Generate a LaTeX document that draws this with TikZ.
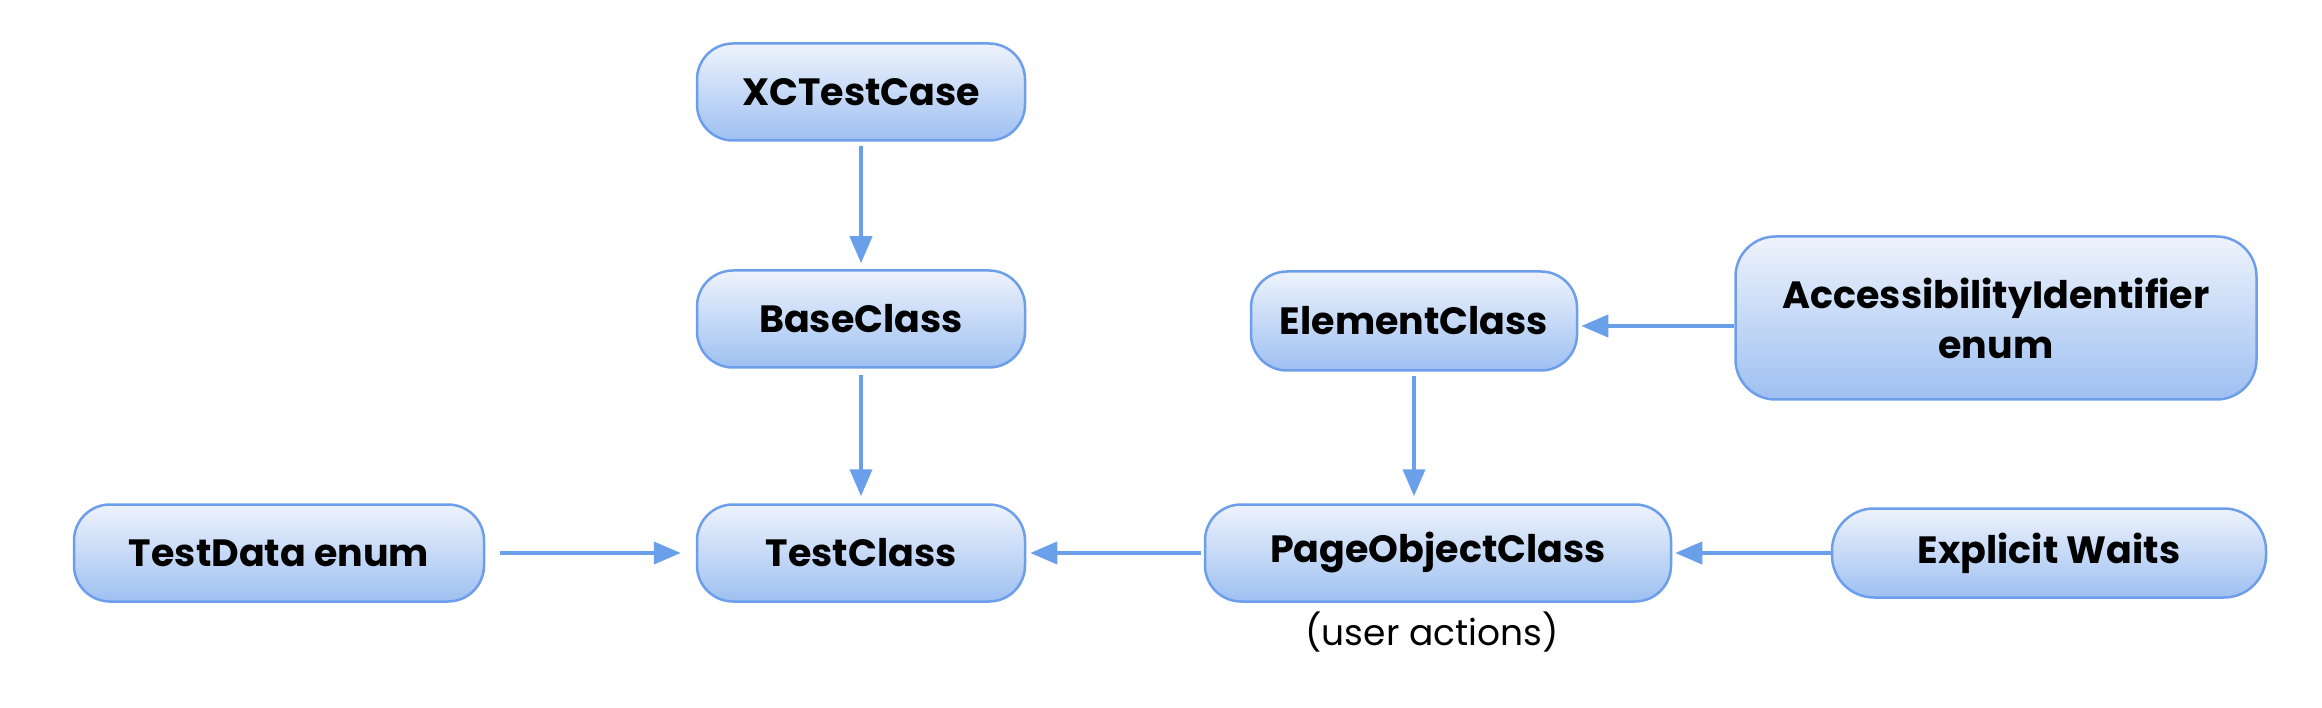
\documentclass[tikz,border=0pt]{standalone}
\usepackage{fontspec}
\setmainfont{Poppins}
\usetikzlibrary{arrows.meta}
\definecolor{bord}{HTML}{6D9EEB}
\definecolor{ftop}{HTML}{EEF3FC}
\definecolor{fbot}{HTML}{9EC0F1}
\definecolor{arr}{HTML}{6A9FEA}
\tikzset{
  box/.style={draw=bord, line width=2.5pt, rounded corners=36pt, top color=ftop, bottom color=fbot,
    inner sep=0pt, align=center, font=\fontsize{38}{50}\selectfont\bfseries},
  conn/.style={draw=arr, line width=4pt, -{Triangle[width=22pt,length=27pt]}},
}
\begin{document}
\begin{tikzpicture}[x=1pt,y=-1pt]
\useasboundingbox (0,0) rectangle (2322,708);
\node[box, minimum width=328pt, minimum height=97pt] (xc) at (861,92) {XCTestCase};
\node[box, minimum width=328pt, minimum height=97pt] (base) at (861,319) {BaseClass};
\node[box, minimum width=328pt, minimum height=97pt] (test) at (861,553) {TestClass};
\node[box, minimum width=410pt, minimum height=97pt] (data) at (279,553) {TestData enum};
\node[box, minimum width=326pt, minimum height=99pt] (elem) at (1414,321) {ElementClass};
\node[box, minimum width=521pt, minimum height=163pt, rounded corners=40pt] (acc) at (1996,318) {AccessibilityIdentifier\\enum};
\node[box, minimum width=466pt, minimum height=97pt] (poc) at (1438,553) {PageObjectClass};
\node[box, minimum width=434pt, minimum height=89pt, rounded corners=42pt] (wait) at (2049,553) {Explicit Waits};
\node[font=\fontsize{36}{40}\selectfont, anchor=north] (ua) at (1432,608) {(user actions)};
\draw[conn, shorten <=4pt, shorten >=6pt] (xc.south) -- (base.north);
\draw[conn, shorten <=6pt, shorten >=7pt] (base.south) -- (test.north);
\draw[conn, shorten <=15pt, shorten >=15pt] (data.east) -- (test.west);
\draw[conn, shorten <=3pt, shorten >=4pt] (poc.west) -- (test.east);
\draw[conn, shorten <=4pt, shorten >=7pt] (elem.south) -- (elem.south |- poc.north);
\draw[conn, shorten >=3pt] ([yshift=-8pt]acc.west) -- ([yshift=-8pt]acc.west -| elem.east);
\draw[conn, shorten >=3pt] (wait.west) -- (poc.east);
\end{tikzpicture}
\end{document}
